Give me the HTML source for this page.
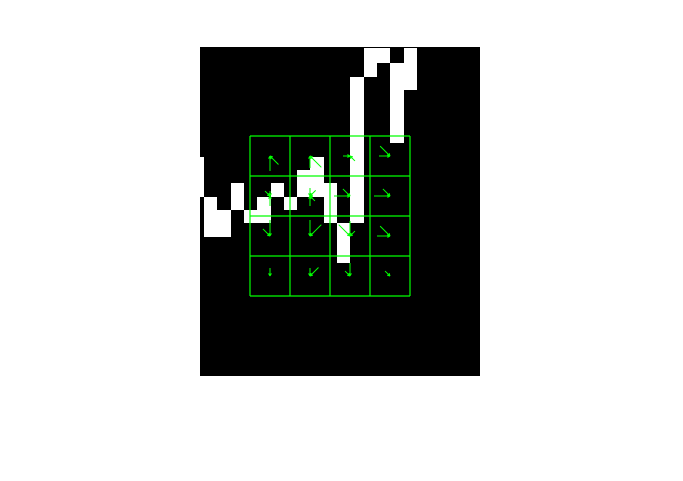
<!DOCTYPE html>
<html><head><meta charset="utf-8"><style>
html,body{margin:0;padding:0;background:#fff;}
svg{display:block;}
</style></head><body>
<svg id="chart" width="683" height="481" viewBox="0 0 683 481" xmlns="http://www.w3.org/2000/svg">
<rect x="200" y="47" width="280" height="329" fill="#000"/>
<g id="pixels"></g>
<g id="grid"></g>
<g id="arrows"></g>
</svg>
<script>
// white pixel blocks: [x0,y0,x1,y1] in image coords
const whiteBlocks = [
 [364,48,390,63],[364,63,377,77],[350,77,364,223],
 [404,48,417,90],[390,63,417,90],[390,90,404,143],
 [200,157,204,197],[204,197,217,237],[217,210,231,237],
 [231,183,244,210],[244,210,271,223],[257,197,271,223],
 [271,183,284,197],[284,197,297,210],[297,170,324,197],
 [310,157,324,170],[324,183,337,223],[337,223,350,263]
];
// grid: 4x4 cells
const gridX0 = 250, gridY0 = 136, cellSize = 40, gridN = 4;
// per-cell orientation bins: angle (deg, screen) and magnitude (px)
const cellAngles = [
 [[90,45],[90,45],[180,45],[180,225]],
 [[270,90,225],[270,90,315,45],[180,225],[180,225]],
 [[270,225],[270,315],[270,225,315],[180,225]],
 [[270],[270,315],[270,225],[225]]
];
const cellMags = [
 [[15,12],[12,16],[7,7],[11,14]],
 [[5,10,7],[8,10,8,7],[16,10],[16,10]],
 [[16,10],[16,16],[15,16,7],[13,14]],
 [[8],[8,12],[13,7],[7]]
];
const NS='http://www.w3.org/2000/svg';
const pg=document.getElementById('pixels');
whiteBlocks.forEach(b=>{
  const r=document.createElementNS(NS,'rect');
  r.setAttribute('x',b[0]);r.setAttribute('y',b[1]);
  r.setAttribute('width',b[2]-b[0]);r.setAttribute('height',b[3]-b[1]);
  r.setAttribute('fill','#fff');
  
  
  pg.appendChild(r);
});
const gg=document.getElementById('grid');
for(let i=0;i<=gridN;i++){
  const v=document.createElementNS(NS,'line');
  v.setAttribute('x1',gridX0+i*cellSize);v.setAttribute('x2',gridX0+i*cellSize);
  v.setAttribute('y1',gridY0);v.setAttribute('y2',gridY0+gridN*cellSize);
  v.setAttribute('stroke','#00ff00');v.setAttribute('stroke-width','1.2');
  
  
  gg.appendChild(v);
  const h=document.createElementNS(NS,'line');
  h.setAttribute('y1',gridY0+i*cellSize);h.setAttribute('y2',gridY0+i*cellSize);
  h.setAttribute('x1',gridX0);h.setAttribute('x2',gridX0+gridN*cellSize);
  h.setAttribute('stroke','#00ff00');h.setAttribute('stroke-width','1.2');
  
  
  gg.appendChild(h);
}
const ag=document.getElementById('arrows');
for(let r=0;r<gridN;r++)for(let c=0;c<gridN;c++){
  const cx=gridX0+c*cellSize+cellSize/2, cy=gridY0+r*cellSize+cellSize/2;
  cellAngles[r][c].forEach((a,k)=>{
    const m=cellMags[r][c][k], t=a*Math.PI/180;
    const x2=cx+m*Math.cos(t), y2=cy+m*Math.sin(t);
    const l=document.createElementNS(NS,'line');
    l.setAttribute('x1',x2);l.setAttribute('y1',y2);l.setAttribute('x2',cx);l.setAttribute('y2',cy);
    l.setAttribute('stroke','#00ff00');l.setAttribute('stroke-width','1');
    
    
    ag.appendChild(l);
    // arrowhead at center
    [0.5,-0.5].forEach(d=>{
      const hd=document.createElementNS(NS,'line');
      hd.setAttribute('x1',cx);hd.setAttribute('y1',cy);
      hd.setAttribute('x2',cx+3*Math.cos(t+d));hd.setAttribute('y2',cy+3*Math.sin(t+d));
      hd.setAttribute('stroke','#00ff00');hd.setAttribute('stroke-width','1');
      
      
      ag.appendChild(hd);
    });
  });
}
</script>
</body></html>
